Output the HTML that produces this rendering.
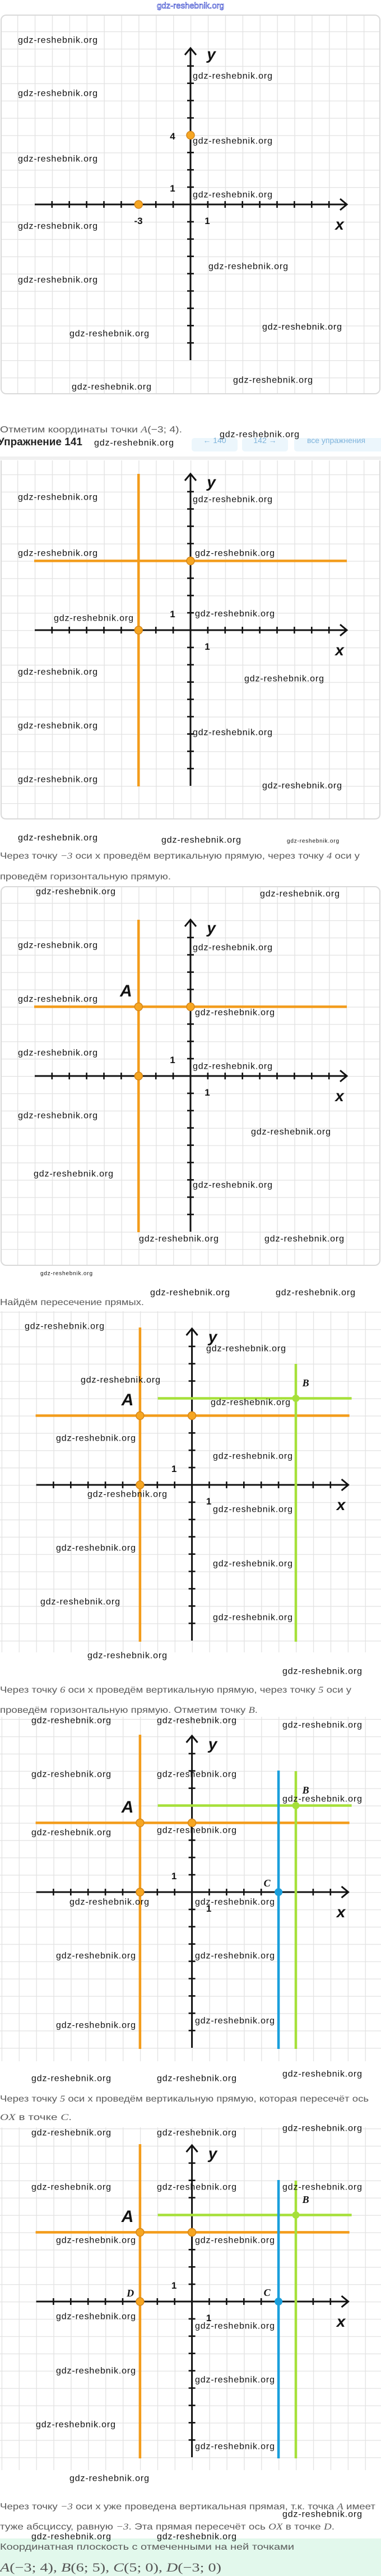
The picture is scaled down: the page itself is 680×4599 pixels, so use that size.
<!DOCTYPE html>
<html><head><meta charset="utf-8"><style>
html,body{margin:0;padding:0;background:#fff;}
svg{display:block;}
.w{font-family:"Liberation Sans",sans-serif;font-size:16px;fill:#111;}
.ws{font-family:"Liberation Sans",sans-serif;font-size:10px;fill:#111;}
.p{font-family:"Liberation Sans",sans-serif;font-size:16px;fill:#5a5a5a;}
.lab{font-family:"Liberation Sans",sans-serif;font-weight:bold;fill:#111;}
.it{font-style:italic;}
.m{font-family:"Liberation Serif",serif;font-style:italic;}
</style></head><body>
<svg width="680" height="4599" viewBox="0 0 680 4599" xmlns="http://www.w3.org/2000/svg">
<defs>
<pattern id="g1" x="340" y="365" width="30.9" height="30.9" patternUnits="userSpaceOnUse"><path d="M0 0.5H30.9M0.5 0V30.9" stroke="#e2e2e2" stroke-width="1.6" fill="none"/></pattern>
<pattern id="g2" x="340" y="1125" width="30.9" height="30.9" patternUnits="userSpaceOnUse"><path d="M0 0.5H30.9M0.5 0V30.9" stroke="#e2e2e2" stroke-width="1.6" fill="none"/></pattern>
<pattern id="g3" x="340" y="1921" width="30.9" height="30.9" patternUnits="userSpaceOnUse"><path d="M0 0.5H30.9M0.5 0V30.9" stroke="#e2e2e2" stroke-width="1.6" fill="none"/></pattern>
<pattern id="g4" x="342.6" y="2651" width="30.9" height="30.9" patternUnits="userSpaceOnUse"><path d="M0 0.5H30.9M0.5 0V30.9" stroke="#e2e2e2" stroke-width="1.6" fill="none"/></pattern>
<pattern id="g5" x="342.6" y="3378" width="30.9" height="30.9" patternUnits="userSpaceOnUse"><path d="M0 0.5H30.9M0.5 0V30.9" stroke="#e2e2e2" stroke-width="1.6" fill="none"/></pattern>
<pattern id="g6" x="342.6" y="4109" width="30.9" height="30.9" patternUnits="userSpaceOnUse"><path d="M0 0.5H30.9M0.5 0V30.9" stroke="#e2e2e2" stroke-width="1.6" fill="none"/></pattern>
<g id="ax" stroke="#111" fill="none">
<line x1="-278" y1="0" x2="278" y2="0" stroke-width="3"/>
<polyline points="267,-10 279,0 267,10" stroke-width="3"/>
<line x1="0" y1="278" x2="0" y2="-278" stroke-width="3"/>
<polyline points="-10,-267 0,-279 10,-267" stroke-width="3"/>
<line x1="-248.5" y1="0" x2="248.5" y2="0" stroke-width="12" stroke-dasharray="2.6 28.3"/>
<line x1="0" y1="-248.5" x2="0" y2="248.5" stroke-width="12" stroke-dasharray="2.6 28.3"/>
</g>
</defs>

<!-- top watermark -->
<text x="340" y="15" text-anchor="middle" font-family="Liberation Sans,sans-serif" font-size="15" fill="#fff" stroke="#3344cc" stroke-width="0.7">gdz-reshebnik.org</text>

<!-- GRAPH 1 -->
<rect x="2" y="27" width="676" height="676" fill="url(#g1)"/>
<rect x="2" y="27" width="676" height="676" rx="9" fill="none" stroke="#d9d9d9" stroke-width="2"/>
<use href="#ax" x="340" y="365"/>
<circle cx="247.3" cy="365" r="7" fill="#f6a623" stroke="#d4861a" stroke-width="1.5"/>
<circle cx="340" cy="241.4" r="7" fill="#f6a623" stroke="#d4861a" stroke-width="1.5"/>
<text class="lab" x="308" y="249" font-size="17" text-anchor="middle">4</text>
<text class="lab" x="247" y="400" font-size="17" text-anchor="middle">-3</text>
<text class="lab" x="308" y="342" font-size="17" text-anchor="middle">1</text>
<text class="lab" x="370" y="400" font-size="17" text-anchor="middle">1</text>
<text class="lab it" x="377" y="106" font-size="28" text-anchor="middle">y</text>
<text class="lab it" x="606" y="410" font-size="28" text-anchor="middle">x</text>

<!-- text 1 -->
<text class="p" x="0" y="772" textLength="325" lengthAdjust="spacingAndGlyphs">Отметим координаты точки <tspan class="m">A</tspan>(−3; 4).</text>
<rect x="342" y="782" width="82" height="24" rx="5" fill="#ecf6fc"/>
<rect x="432" y="782" width="82" height="24" rx="5" fill="#ecf6fc"/>
<rect x="525" y="782" width="160" height="24" rx="5" fill="#ecf6fc"/>
<text x="383" y="791" text-anchor="middle" font-family="Liberation Sans,sans-serif" font-size="14" fill="#7fb4dc">←  140</text>
<text x="473" y="791" text-anchor="middle" font-family="Liberation Sans,sans-serif" font-size="14" fill="#7fb4dc">142  →</text>
<text x="600" y="791" text-anchor="middle" font-family="Liberation Sans,sans-serif" font-size="14" fill="#7fb4dc">все упражнения</text>
<rect x="0" y="760" width="680" height="22" fill="#fff" opacity="0.0"/>
<text x="-4" y="795" font-family="Liberation Sans,sans-serif" font-size="19" font-weight="bold" fill="#222">Упражнение 141</text>
<rect x="0" y="815" width="680" height="6" fill="#f0f0f0"/>

<!-- GRAPH 2 -->
<rect x="2" y="822" width="676" height="640" fill="url(#g2)"/>
<path d="M2 822 V1453 Q2 1462 11 1462 H669 Q678 1462 678 1453 V822" fill="none" stroke="#d9d9d9" stroke-width="2"/>
<use href="#ax" x="340" y="1125"/>
<g transform="translate(340,1125)">
<line x1="-92.7" y1="-279" x2="-92.7" y2="279" stroke="#f39c1b" stroke-width="4.5"/>
<line x1="-279" y1="-123.6" x2="279" y2="-123.6" stroke="#f39c1b" stroke-width="4.5"/>
<circle cx="-92.7" cy="0" r="7" fill="#f6a623" stroke="#d4861a" stroke-width="1.5"/>
<circle cx="0" cy="-123.6" r="7" fill="#f6a623" stroke="#d4861a" stroke-width="1.5"/>
<text class="lab" x="-32" y="-23" font-size="17" text-anchor="middle">1</text>
<text class="lab" x="30" y="35" font-size="17" text-anchor="middle">1</text>
<text class="lab it" x="37" y="-255" font-size="28" text-anchor="middle">y</text>
<text class="lab it" x="266" y="45" font-size="28" text-anchor="middle">x</text>
</g>

<!-- text 2 -->
<text class="p" x="0" y="1533" textLength="642" lengthAdjust="spacingAndGlyphs">Через точку <tspan class="m">−3</tspan> оси x проведём вертикальную прямую, через точку <tspan class="m">4</tspan> оси y</text>
<text class="p" x="0" y="1570" textLength="305" lengthAdjust="spacingAndGlyphs">проведём горизонтальную прямую.</text>

<!-- GRAPH 3 -->
<rect x="2" y="1583" width="676" height="676" fill="url(#g3)"/>
<rect x="2" y="1583" width="676" height="676" rx="9" fill="none" stroke="#d9d9d9" stroke-width="2"/>
<use href="#ax" x="340" y="1921"/>
<g transform="translate(340,1921)">
<line x1="-92.7" y1="-279" x2="-92.7" y2="279" stroke="#f39c1b" stroke-width="4.5"/>
<line x1="-279" y1="-123.6" x2="279" y2="-123.6" stroke="#f39c1b" stroke-width="4.5"/>
<circle cx="-92.7" cy="0" r="7" fill="#f6a623" stroke="#d4861a" stroke-width="1.5"/>
<circle cx="-92.7" cy="-123.6" r="7" fill="#f6a623" stroke="#d4861a" stroke-width="1.5"/>
<circle cx="0" cy="-123.6" r="7" fill="#f6a623" stroke="#d4861a" stroke-width="1.5"/>
<text class="lab it" x="-115" y="-142" font-size="30" text-anchor="middle">A</text>
<text class="lab" x="-32" y="-23" font-size="17" text-anchor="middle">1</text>
<text class="lab" x="30" y="35" font-size="17" text-anchor="middle">1</text>
<text class="lab it" x="37" y="-255" font-size="28" text-anchor="middle">y</text>
<text class="lab it" x="266" y="45" font-size="28" text-anchor="middle">x</text>
</g>

<!-- text 3 -->
<text class="p" x="0" y="2330" textLength="257" lengthAdjust="spacingAndGlyphs">Найдём пересечение прямых.</text>

<!-- GRAPH 4 -->
<rect x="0" y="2341" width="680" height="609" fill="url(#g4)"/>
<use href="#ax" x="342.6" y="2651"/>
<g transform="translate(342.6,2651)">
<line x1="-92.7" y1="-281" x2="-92.7" y2="280" stroke="#f39c1b" stroke-width="4.5"/>
<line x1="-279" y1="-123.6" x2="281" y2="-123.6" stroke="#f39c1b" stroke-width="4.5"/>
<line x1="185.4" y1="-216" x2="185.4" y2="280" stroke="#a6e03a" stroke-width="4.5"/>
<line x1="-61" y1="-154.5" x2="285" y2="-154.5" stroke="#a6e03a" stroke-width="4.5"/>
<circle cx="-92.7" cy="0" r="7" fill="#f6a623" stroke="#d4861a" stroke-width="1.5"/>
<circle cx="-92.7" cy="-123.6" r="7" fill="#f6a623" stroke="#d4861a" stroke-width="1.5"/>
<circle cx="0" cy="-123.6" r="7" fill="#f6a623" stroke="#d4861a" stroke-width="1.5"/>
<circle cx="185.4" cy="-154.5" r="6.5" fill="#a6e03a"/>
<text class="lab it" x="-115" y="-142" font-size="30" text-anchor="middle">A</text>
<text x="203" y="-176" font-family="Liberation Serif,serif" font-weight="bold" font-style="italic" font-size="18" fill="#111" text-anchor="middle">B</text>
<text class="lab" x="-32" y="-23" font-size="17" text-anchor="middle">1</text>
<text class="lab" x="30" y="35" font-size="17" text-anchor="middle">1</text>
<text class="lab it" x="37" y="-255" font-size="28" text-anchor="middle">y</text>
<text class="lab it" x="266" y="45" font-size="28" text-anchor="middle">x</text>
</g>

<!-- text 4 -->
<text class="p" x="0" y="3022" textLength="627" lengthAdjust="spacingAndGlyphs">Через точку <tspan class="m">6</tspan> оси x проведём вертикальную прямую, через точку <tspan class="m">5</tspan> оси y</text>
<text class="p" x="0" y="3058" textLength="460" lengthAdjust="spacingAndGlyphs">проведём горизонтальную прямую. Отметим точку <tspan class="m">B</tspan>.</text>

<!-- GRAPH 5 -->
<rect x="0" y="3065" width="680" height="615" fill="url(#g5)"/>
<use href="#ax" x="342.6" y="3378"/>
<g transform="translate(342.6,3378)">
<line x1="-92.7" y1="-281" x2="-92.7" y2="280" stroke="#f39c1b" stroke-width="4.5"/>
<line x1="-279" y1="-123.6" x2="281" y2="-123.6" stroke="#f39c1b" stroke-width="4.5"/>
<line x1="185.4" y1="-216" x2="185.4" y2="280" stroke="#a6e03a" stroke-width="4.5"/>
<line x1="-61" y1="-154.5" x2="285" y2="-154.5" stroke="#a6e03a" stroke-width="4.5"/>
<line x1="154.5" y1="-217" x2="154.5" y2="280" stroke="#1a9fdc" stroke-width="4.5"/>
<circle cx="-92.7" cy="0" r="7" fill="#f6a623" stroke="#d4861a" stroke-width="1.5"/>
<circle cx="-92.7" cy="-123.6" r="7" fill="#f6a623" stroke="#d4861a" stroke-width="1.5"/>
<circle cx="0" cy="-123.6" r="7" fill="#f6a623" stroke="#d4861a" stroke-width="1.5"/>
<circle cx="185.4" cy="-154.5" r="6.5" fill="#a6e03a"/>
<circle cx="154.5" cy="0" r="7" fill="#1a9fdc"/>
<text class="lab it" x="-115" y="-142" font-size="30" text-anchor="middle">A</text>
<text x="203" y="-176" font-family="Liberation Serif,serif" font-weight="bold" font-style="italic" font-size="18" fill="#111" text-anchor="middle">B</text>
<text x="134" y="-10" font-family="Liberation Serif,serif" font-weight="bold" font-style="italic" font-size="18" fill="#111" text-anchor="middle">C</text>
<text class="lab" x="-32" y="-23" font-size="17" text-anchor="middle">1</text>
<text class="lab" x="30" y="35" font-size="17" text-anchor="middle">1</text>
<text class="lab it" x="37" y="-255" font-size="28" text-anchor="middle">y</text>
<text class="lab it" x="266" y="45" font-size="28" text-anchor="middle">x</text>
</g>

<!-- text 5 -->
<text class="p" x="0" y="3752" textLength="658" lengthAdjust="spacingAndGlyphs">Через точку <tspan class="m">5</tspan> оси x проведём вертикальную прямую, которая пересечёт ось</text>
<text class="p" x="0" y="3785" textLength="128" lengthAdjust="spacingAndGlyphs"><tspan class="m">OX</tspan> в точке <tspan class="m">C</tspan>.</text>

<!-- GRAPH 6 -->
<rect x="0" y="3798" width="680" height="612" fill="url(#g6)"/>
<use href="#ax" x="342.6" y="4109"/>
<g transform="translate(342.6,4109)">
<line x1="-92.7" y1="-281" x2="-92.7" y2="280" stroke="#f39c1b" stroke-width="4.5"/>
<line x1="-279" y1="-123.6" x2="281" y2="-123.6" stroke="#f39c1b" stroke-width="4.5"/>
<line x1="185.4" y1="-216" x2="185.4" y2="280" stroke="#a6e03a" stroke-width="4.5"/>
<line x1="-61" y1="-154.5" x2="285" y2="-154.5" stroke="#a6e03a" stroke-width="4.5"/>
<line x1="154.5" y1="-217" x2="154.5" y2="280" stroke="#1a9fdc" stroke-width="4.5"/>
<circle cx="-92.7" cy="0" r="7" fill="#f6a623" stroke="#d4861a" stroke-width="1.5"/>
<circle cx="-92.7" cy="-123.6" r="7" fill="#f6a623" stroke="#d4861a" stroke-width="1.5"/>
<circle cx="0" cy="-123.6" r="7" fill="#f6a623" stroke="#d4861a" stroke-width="1.5"/>
<circle cx="185.4" cy="-154.5" r="6.5" fill="#a6e03a"/>
<circle cx="154.5" cy="0" r="7" fill="#1a9fdc"/>
<text class="lab it" x="-115" y="-142" font-size="30" text-anchor="middle">A</text>
<text x="203" y="-176" font-family="Liberation Serif,serif" font-weight="bold" font-style="italic" font-size="18" fill="#111" text-anchor="middle">B</text>
<text x="134" y="-10" font-family="Liberation Serif,serif" font-weight="bold" font-style="italic" font-size="18" fill="#111" text-anchor="middle">C</text>
<text x="-110" y="-9" font-family="Liberation Serif,serif" font-weight="bold" font-style="italic" font-size="18" fill="#111" text-anchor="middle">D</text>
<text class="lab" x="-32" y="-23" font-size="17" text-anchor="middle">1</text>
<text class="lab" x="30" y="35" font-size="17" text-anchor="middle">1</text>
<text class="lab it" x="37" y="-255" font-size="28" text-anchor="middle">y</text>
<text class="lab it" x="266" y="45" font-size="28" text-anchor="middle">x</text>
</g>

<!-- text 6 -->
<text class="p" x="0" y="4480" textLength="670" lengthAdjust="spacingAndGlyphs">Через точку <tspan class="m">−3</tspan> оси x уже проведена вертикальная прямая, т.к. точка <tspan class="m">A</tspan> имеет</text>
<text class="p" x="0" y="4516" textLength="597" lengthAdjust="spacingAndGlyphs">туже абсциссу, равную <tspan class="m">−3</tspan>. Эта прямая пересечёт ось <tspan class="m">OX</tspan> в точке <tspan class="m">D</tspan>.</text>
<rect x="0" y="4532" width="680" height="67" fill="#e2f8ec"/>
<text class="p" x="0" y="4552" textLength="525" lengthAdjust="spacingAndGlyphs">Координатная плоскость с отмеченными на ней точками</text>
<text x="0" y="4591" font-family="Liberation Serif,serif" font-size="22" fill="#555" textLength="395" lengthAdjust="spacingAndGlyphs"><tspan font-style="italic">A</tspan>(−3; 4), <tspan font-style="italic">B</tspan>(6; 5), <tspan font-style="italic">C</tspan>(5; 0), <tspan font-style="italic">D</tspan>(−3; 0)</text>

<!-- watermarks -->
<g class="w" dominant-baseline="central">
<text x="32" y="72" textLength="142">gdz-reshebnik.org</text>
<text x="344" y="136" textLength="142">gdz-reshebnik.org</text>
<text x="32" y="167" textLength="142">gdz-reshebnik.org</text>
<text x="344" y="252" textLength="142">gdz-reshebnik.org</text>
<text x="32" y="284" textLength="142">gdz-reshebnik.org</text>
<text x="344" y="348" textLength="142">gdz-reshebnik.org</text>
<text x="32" y="404" textLength="142">gdz-reshebnik.org</text>
<text x="372" y="476" textLength="142">gdz-reshebnik.org</text>
<text x="32" y="500" textLength="142">gdz-reshebnik.org</text>
<text x="124" y="596" textLength="142">gdz-reshebnik.org</text>
<text x="468" y="584" textLength="142">gdz-reshebnik.org</text>
<text x="128" y="691" textLength="142">gdz-reshebnik.org</text>
<text x="416" y="679" textLength="142">gdz-reshebnik.org</text>

<text x="392" y="776" textLength="142">gdz-reshebnik.org</text>
<text x="168" y="791" textLength="142">gdz-reshebnik.org</text>
<text x="32" y="888" textLength="142">gdz-reshebnik.org</text>
<text x="344" y="892" textLength="142">gdz-reshebnik.org</text>
<text x="32" y="988" textLength="142">gdz-reshebnik.org</text>
<text x="348" y="988" textLength="142">gdz-reshebnik.org</text>
<text x="96" y="1104" textLength="142">gdz-reshebnik.org</text>
<text x="348" y="1096" textLength="142">gdz-reshebnik.org</text>
<text x="32" y="1200" textLength="142">gdz-reshebnik.org</text>
<text x="436" y="1212" textLength="142">gdz-reshebnik.org</text>
<text x="32" y="1296" textLength="142">gdz-reshebnik.org</text>
<text x="344" y="1308" textLength="142">gdz-reshebnik.org</text>
<text x="32" y="1392" textLength="142">gdz-reshebnik.org</text>
<text x="468" y="1403" textLength="142">gdz-reshebnik.org</text>

<text x="32" y="1496" textLength="142">gdz-reshebnik.org</text>
<text x="288" y="1500" textLength="142">gdz-reshebnik.org</text>
<text x="64" y="1592" textLength="142">gdz-reshebnik.org</text>
<text x="464" y="1596" textLength="142">gdz-reshebnik.org</text>
<text x="32" y="1688" textLength="142">gdz-reshebnik.org</text>
<text x="344" y="1692" textLength="142">gdz-reshebnik.org</text>
<text x="32" y="1784" textLength="142">gdz-reshebnik.org</text>
<text x="348" y="1808" textLength="142">gdz-reshebnik.org</text>
<text x="32" y="1880" textLength="142">gdz-reshebnik.org</text>
<text x="344" y="1904" textLength="142">gdz-reshebnik.org</text>
<text x="32" y="1992" textLength="142">gdz-reshebnik.org</text>
<text x="448" y="2021" textLength="142">gdz-reshebnik.org</text>
<text x="60" y="2096" textLength="142">gdz-reshebnik.org</text>
<text x="344" y="2116" textLength="142">gdz-reshebnik.org</text>

<text x="248" y="2212" textLength="142">gdz-reshebnik.org</text>
<text x="472" y="2212" textLength="142">gdz-reshebnik.org</text>
<text x="268" y="2308" textLength="142">gdz-reshebnik.org</text>
<text x="492" y="2308" textLength="142">gdz-reshebnik.org</text>
<text x="44" y="2368" textLength="142">gdz-reshebnik.org</text>
<text x="368" y="2408" textLength="142">gdz-reshebnik.org</text>
<text x="144" y="2464" textLength="142">gdz-reshebnik.org</text>
<text x="376" y="2504" textLength="142">gdz-reshebnik.org</text>
<text x="100" y="2568" textLength="142">gdz-reshebnik.org</text>
<text x="380" y="2600" textLength="142">gdz-reshebnik.org</text>
<text x="156" y="2668" textLength="142">gdz-reshebnik.org</text>
<text x="380" y="2695" textLength="142">gdz-reshebnik.org</text>
<text x="100" y="2764" textLength="142">gdz-reshebnik.org</text>
<text x="380" y="2792" textLength="142">gdz-reshebnik.org</text>
<text x="72" y="2860" textLength="142">gdz-reshebnik.org</text>
<text x="380" y="2888" textLength="142">gdz-reshebnik.org</text>

<text x="156" y="2956" textLength="142">gdz-reshebnik.org</text>
<text x="504" y="2984" textLength="142">gdz-reshebnik.org</text>
<text x="56" y="3072" textLength="142">gdz-reshebnik.org</text>
<text x="280" y="3072" textLength="142">gdz-reshebnik.org</text>
<text x="504" y="3080" textLength="142">gdz-reshebnik.org</text>
<text x="56" y="3168" textLength="142">gdz-reshebnik.org</text>
<text x="280" y="3168" textLength="142">gdz-reshebnik.org</text>
<text x="504" y="3212" textLength="142">gdz-reshebnik.org</text>
<text x="56" y="3272" textLength="142">gdz-reshebnik.org</text>
<text x="280" y="3268" textLength="142">gdz-reshebnik.org</text>
<text x="124" y="3396" textLength="142">gdz-reshebnik.org</text>
<text x="348" y="3396" textLength="142">gdz-reshebnik.org</text>
<text x="100" y="3492" textLength="142">gdz-reshebnik.org</text>
<text x="348" y="3492" textLength="142">gdz-reshebnik.org</text>
<text x="100" y="3616" textLength="142">gdz-reshebnik.org</text>
<text x="348" y="3608" textLength="142">gdz-reshebnik.org</text>

<text x="56" y="3711" textLength="142">gdz-reshebnik.org</text>
<text x="280" y="3711" textLength="142">gdz-reshebnik.org</text>
<text x="504" y="3703" textLength="142">gdz-reshebnik.org</text>
<text x="56" y="3808" textLength="142">gdz-reshebnik.org</text>
<text x="280" y="3808" textLength="142">gdz-reshebnik.org</text>
<text x="504" y="3800" textLength="142">gdz-reshebnik.org</text>
<text x="56" y="3905" textLength="142">gdz-reshebnik.org</text>
<text x="280" y="3905" textLength="142">gdz-reshebnik.org</text>
<text x="504" y="3905" textLength="142">gdz-reshebnik.org</text>
<text x="100" y="4000" textLength="142">gdz-reshebnik.org</text>
<text x="348" y="4000" textLength="142">gdz-reshebnik.org</text>
<text x="100" y="4136" textLength="142">gdz-reshebnik.org</text>
<text x="348" y="4153" textLength="142">gdz-reshebnik.org</text>
<text x="100" y="4233" textLength="142">gdz-reshebnik.org</text>
<text x="348" y="4249" textLength="142">gdz-reshebnik.org</text>
<text x="64" y="4329" textLength="142">gdz-reshebnik.org</text>
<text x="348" y="4368" textLength="142">gdz-reshebnik.org</text>
<text x="124" y="4425" textLength="142">gdz-reshebnik.org</text>
<text x="504" y="4489" textLength="142">gdz-reshebnik.org</text>
<text x="56" y="4529" textLength="142">gdz-reshebnik.org</text>
<text x="280" y="4529" textLength="142">gdz-reshebnik.org</text>
</g>
<g class="ws" dominant-baseline="central">
<text x="512" y="1502" textLength="93">gdz-reshebnik.org</text>
<text x="72" y="2274" textLength="93">gdz-reshebnik.org</text>
</g>
</svg>
</body></html>
